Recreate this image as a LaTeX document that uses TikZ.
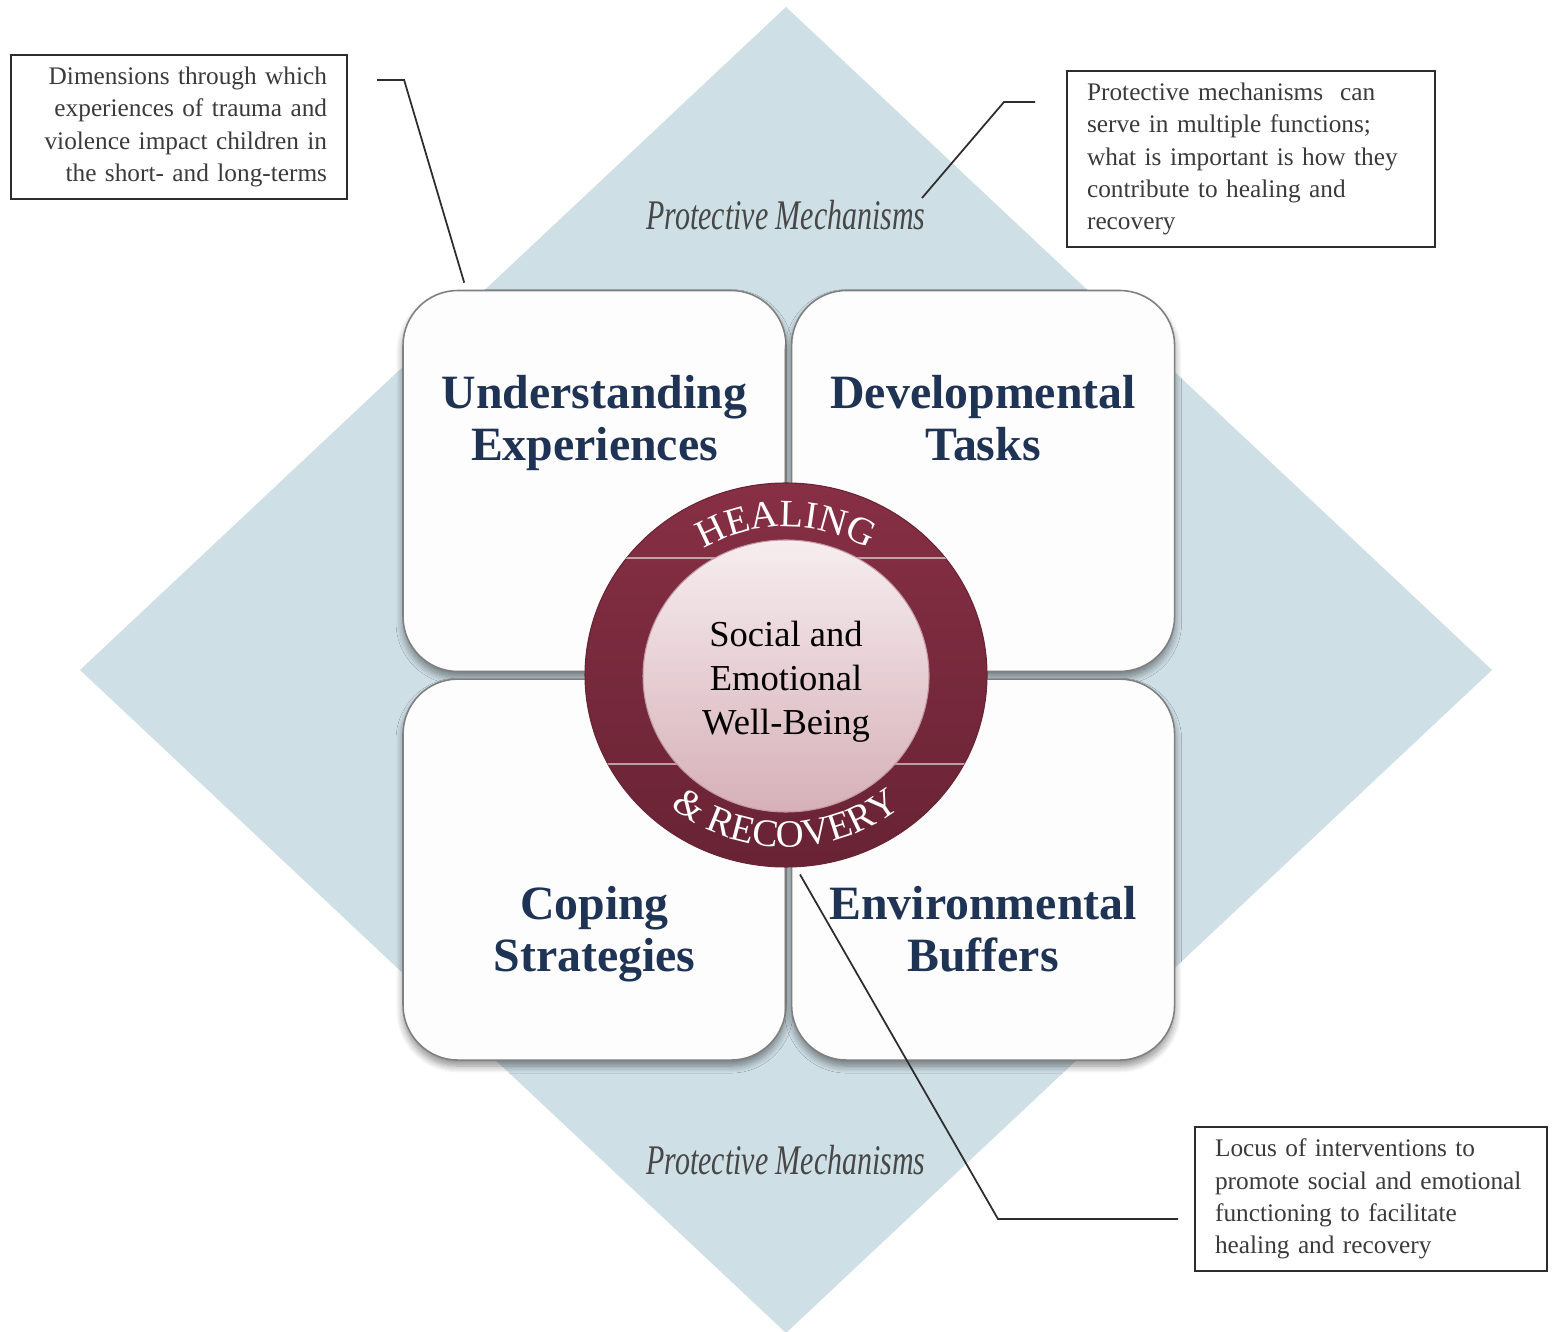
\documentclass[tikz,border=0pt]{standalone}
\usepackage{fontspec}
\setmainfont{Liberation Serif}
\usepackage{xcolor}
\usepackage{tikz}
\usetikzlibrary{positioning,shapes.geometric,shadows.blur,decorations.text}

\definecolor{diamondblue}{RGB}{206,223,230}
\definecolor{titlenavy}{RGB}{31,51,84}
\definecolor{ringtop}{RGB}{135,47,69}
\definecolor{ringbot}{RGB}{104,35,52}
\definecolor{coretop}{RGB}{246,237,239}
\definecolor{corebot}{RGB}{214,176,184}
\definecolor{boxedge}{RGB}{128,128,128}
\definecolor{boxfill}{RGB}{253,253,253}
\definecolor{notetext}{RGB}{58,58,58}
\definecolor{leadgray}{RGB}{45,45,45}

\tikzset{
  quad/.style={draw=boxedge, line width=0.45pt, fill=boxfill, rounded corners=0.55cm,
    minimum width=3.83cm, minimum height=3.81cm, inner sep=0pt,
    blur shadow={shadow xshift=0pt, shadow yshift=-0.06cm, shadow blur radius=0.07cm,
      shadow blur steps=8, shadow opacity=45}},
  quadtitle/.style={text=titlenavy, align=center, anchor=north, font=\fontsize{13.6}{14.8}\selectfont\bfseries},
  note/.style={draw=leadgray, line width=0.6pt, inner xsep=0.2cm, inner ysep=0pt, text=notetext,
    font=\fontsize{7.2}{9.2}\selectfont, anchor=north west},
  lead/.style={draw=leadgray, line width=0.5pt},
  protect/.style={text=black!72, font=\fontsize{12}{14}\selectfont\itshape},
  ringtext/.style={decorate, decoration={text along path, text align=center, text color=white}}
}

\begin{document}
\begin{tikzpicture}
\useasboundingbox (0,0) rectangle (15.57,13.31);
\fill[diamondblue] (7.86,13.24) -- (14.92,6.61) -- (7.86,-0.02) -- (0.80,6.61) -- cycle;

\node[quad] (ue) at (5.945,8.50) {};
\node[quad, right=0.04cm of ue] (dt) {};
\node[quad, below=0.06cm of ue] (cs) {};
\node[quad, right=0.04cm of cs] (eb) {};
\node[quadtitle] (uet) at ([yshift=-0.73cm]ue.north) {Understanding\\Experiences};
\node[quadtitle] (dtt) at ([yshift=-0.73cm]dt.north) {Developmental\\Tasks};
\node[quadtitle] (cst) at ([yshift=1.87cm]cs.south) {Coping\\Strategies};
\node[quadtitle] (ebt) at ([yshift=1.87cm]eb.south) {Environmental\\Buffers};

\node[ellipse, inner sep=0pt, minimum width=4.02cm, minimum height=3.84cm,
  top color=ringtop, bottom color=ringbot, draw=ringbot, line width=0.3pt] (ring) at (7.86,6.56) {};
\begin{scope}
  \clip (ring.center) ellipse [x radius=2.01cm, y radius=1.92cm];
  \draw[white, opacity=0.55, line width=0.4pt] (5.5,7.73) -- (10.2,7.73) (5.5,5.67) -- (10.2,5.67);
\end{scope}
\node[ellipse, inner sep=0pt, minimum width=2.86cm, minimum height=2.72cm,
  top color=coretop, bottom color=corebot, draw=ringtop!50, line width=0.3pt] (core) at (7.86,6.55) {};
\node[align=center, font=\fontsize{10.4}{12.5}\selectfont] (sew) at (7.86,6.49) {Social and\\Emotional\\Well-Being};

\path[ringtext, decoration={text={|\fontsize{11}{12}\selectfont|HEALING}}]
  ([shift={(150:1.56cm and 1.48cm)}]ring.center) arc[start angle=150, end angle=30, x radius=1.56cm, y radius=1.48cm];
\path[ringtext, decoration={text={|\fontsize{11}{12}\selectfont|{\&} RECOVERY}}]
  ([shift={(205:1.80cm and 1.72cm)}]ring.center) arc[start angle=205, end angle=335, x radius=1.80cm, y radius=1.72cm];

\node[protect] (pmtop) at (7.86,11.16) {\scalebox{0.71}[1]{Protective Mechanisms}};
\node[protect] (pmbot) at (7.86,1.71) {\scalebox{0.71}[1]{Protective Mechanisms}};

\node[note, align=right, text width=2.96cm, minimum height=1.44cm] (dim) at (0.10,12.77)
  {Dimensions through which\\experiences of trauma and\\violence impact children in\\the short- and long-terms};
\node[note, align=left, text width=3.28cm, minimum height=1.76cm] (mech) at (10.66,12.61)
  {Protective mechanisms\ \ can\\serve in multiple functions;\\what is important is how they\\contribute to healing and\\recovery};
\node[note, align=left, text width=3.12cm, minimum height=1.44cm] (locus) at (11.94,2.05)
  {Locus of interventions to\\promote social and emotional\\functioning to facilitate\\healing and recovery};

\coordinate (dimfoot) at ([shift={(0.29,-0.26)}]dim.north east);
\coordinate (dimtip) at ([shift={(0.62,0.07)}]ue.north west);
\coordinate (mechfoot) at ([shift={(-0.31,-0.32)}]mech.north west);
\coordinate (mechtip) at (9.22,11.33);
\coordinate (locusfoot) at ([shift={(-0.16,-0.20)}]locus.west);
\coordinate (ringtip) at ([shift={(0.14,-0.07)}]ring.south);
\draw[lead] (dimfoot) -- ++(0.27,0) -- (dimtip);
\draw[lead] (mechfoot) -- ++(-0.31,0) -- (mechtip);
\draw[lead] (locusfoot) -- ++(-1.80,0) -- (ringtip);
\end{tikzpicture}
\end{document}
